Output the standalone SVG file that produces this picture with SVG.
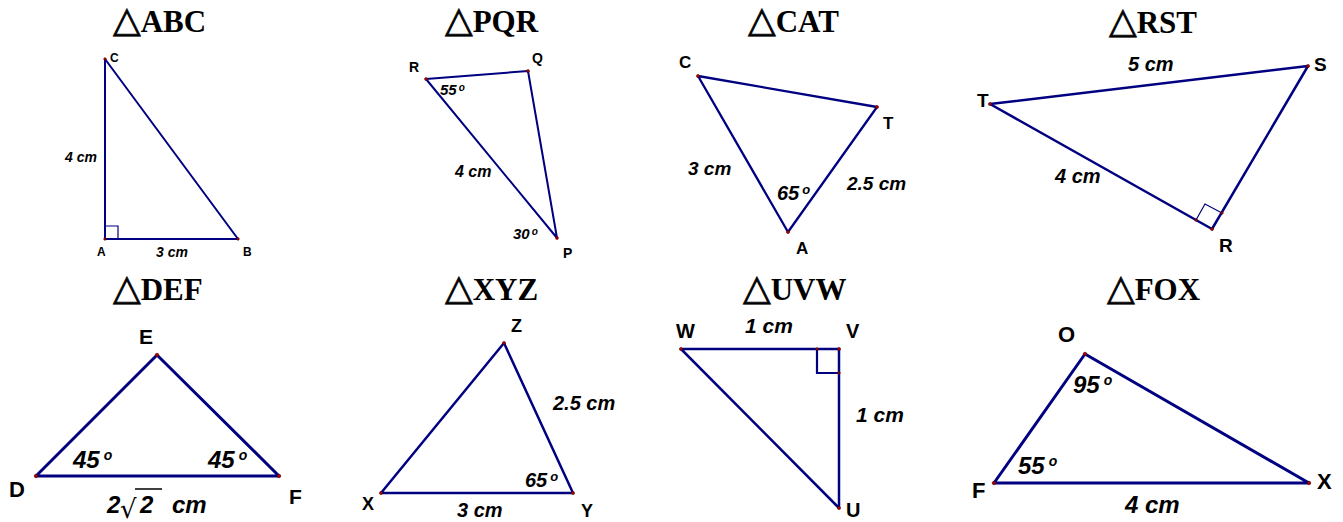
<svg xmlns="http://www.w3.org/2000/svg" width="1343" height="522" viewBox="0 0 1343 522">
<style>
.bg{fill:#ffffff}
.tri{fill:none;stroke:#000080;stroke-linejoin:round}
.ra{fill:none;stroke:#000080}
.pt{fill:#b00000;stroke:#400000;stroke-width:0.5}
.title{font-family:"Liberation Serif","Times New Roman",serif;font-weight:bold;font-size:31px;fill:#000}
.sym{font-family:"DejaVu Sans",sans-serif;font-weight:normal;font-size:36px;stroke:#000;stroke-width:0.7}
.v{font-family:"Liberation Sans",Arial,sans-serif;font-weight:bold;fill:#000}
.m{font-family:"Liberation Sans",Arial,sans-serif;font-weight:bold;font-style:italic;fill:#000}
.rad{font-family:"DejaVu Sans",sans-serif;font-style:normal;font-weight:normal}
</style>
<rect class="bg" x="0" y="0" width="1343" height="522"/>

<g id="titles">
<text class="title" x="113" y="32"><tspan class="sym">△</tspan>ABC</text>
<text class="title" x="445" y="32"><tspan class="sym">△</tspan>PQR</text>
<text class="title" x="748" y="32"><tspan class="sym">△</tspan>CAT</text>
<text class="title" x="1109" y="33"><tspan class="sym">△</tspan>RST</text>
<text class="title" x="113" y="300"><tspan class="sym">△</tspan>DEF</text>
<text class="title" x="445" y="300"><tspan class="sym">△</tspan>XYZ</text>
<text class="title" x="743" y="300"><tspan class="sym">△</tspan>UVW</text>
<text class="title" x="1107" y="300"><tspan class="sym">△</tspan>FOX</text>
</g>

<g id="connectors">
<polygon class="tri" stroke-width="2" points="105,59 105,239 238,239"/>
<polyline class="ra" style="stroke-width:1.2" points="105,226 118,226 118,239"/>
<polygon class="tri" stroke-width="2" points="426,79 528,71 557,238"/>
<polygon class="tri" stroke-width="2.3" points="698,76 877,107 788,232"/>
<polygon class="tri" stroke-width="2.5" points="990,104 1308,66 1212,229"/>
<polyline class="ra" style="stroke-width:1.2" points="1196,220 1205,204 1222,213"/>
<polygon class="tri" stroke-width="3" points="36,476 157,355 279,476"/>
<polygon class="tri" stroke-width="2.5" points="381,493 504,343 573,493"/>
<polygon class="tri" stroke-width="2.5" points="681,349 839,349 839,508"/>
<polyline class="ra" style="stroke-width:2.2" points="817,349 817,373 839,373"/>
<polygon class="tri" stroke-width="3" points="994,483 1085,354 1309,483"/>
</g>

<g id="ABC">
<circle class="pt" cx="105" cy="59" r="1.3"/><circle class="pt" cx="105" cy="239" r="1.3"/><circle class="pt" cx="238" cy="239" r="1.3"/>
<text class="v" font-size="12" x="110" y="62">C</text>
<text class="v" font-size="12" x="97" y="256">A</text>
<text class="v" font-size="12" x="243" y="256">B</text>
<text class="m" font-size="14" x="65" y="162">4 cm</text>
<text class="m" font-size="14" x="156" y="257">3 cm</text>
</g>

<g id="PQR">
<circle class="pt" cx="426" cy="79" r="1.5"/><circle class="pt" cx="528" cy="71" r="1.5"/><circle class="pt" cx="557" cy="238" r="1.5"/>
<text class="v" font-size="14" x="409" y="72">R</text>
<text class="v" font-size="14" x="532" y="63">Q</text>
<text class="v" font-size="14" x="563" y="258">P</text>
<text class="m" font-size="15" x="440" y="95">55<tspan font-size="10" dy="-4" dx="2">o</tspan></text>
<text class="m" font-size="16" x="455" y="177">4 cm</text>
<text class="m" font-size="15" x="513" y="239">30<tspan font-size="10" dy="-4" dx="2">o</tspan></text>
</g>

<g id="CAT">
<circle class="pt" cx="698" cy="76" r="1.6"/><circle class="pt" cx="877" cy="107" r="1.6"/><circle class="pt" cx="788" cy="232" r="1.6"/>
<text class="v" font-size="17" x="679" y="68">C</text>
<text class="v" font-size="17" x="883" y="129">T</text>
<text class="v" font-size="17" x="796" y="254">A</text>
<text class="m" font-size="19" x="688" y="175">3 cm</text>
<text class="m" font-size="19" x="847" y="190">2.5 cm</text>
<text class="m" font-size="20" x="777" y="200">65<tspan font-size="13" dy="-6" dx="3">o</tspan></text>
</g>

<g id="RST">
<circle class="pt" cx="990" cy="104" r="1.6"/><circle class="pt" cx="1308" cy="66" r="1.6"/><circle class="pt" cx="1212" cy="229" r="1.6"/>
<circle class="pt" cx="1196" cy="220" r="1.3"/><circle class="pt" cx="1222" cy="213" r="1.3"/>
<text class="v" font-size="19" x="977" y="107">T</text>
<text class="v" font-size="19" x="1314" y="71">S</text>
<text class="v" font-size="19" x="1219" y="252">R</text>
<text class="m" font-size="20" x="1128" y="71">5 cm</text>
<text class="m" font-size="20" x="1055" y="183">4 cm</text>
</g>

<g id="DEF">
<circle class="pt" cx="36" cy="476" r="1.8"/><circle class="pt" cx="157" cy="355" r="1.8"/><circle class="pt" cx="279" cy="476" r="1.8"/>
<text class="v" font-size="21" x="139" y="344">E</text>
<text class="v" font-size="22" x="9" y="497">D</text>
<text class="v" font-size="21" x="289" y="504">F</text>
<text class="m" font-size="24" x="73" y="468">45<tspan font-size="14" dy="-8" dx="4">o</tspan></text>
<text class="m" font-size="24" x="208" y="468">45<tspan font-size="14" dy="-8" dx="4">o</tspan></text>
<text class="m" font-size="24" x="107" y="513">2<tspan class="rad" font-size="26" x="120" y="518">√</tspan><tspan x="140" y="513">2</tspan><tspan x="172">cm</tspan></text>
<line x1="135" y1="489" x2="162" y2="489" stroke="#000" stroke-width="1.5"/>
</g>

<g id="XYZ">
<circle class="pt" cx="381" cy="493" r="1.6"/><circle class="pt" cx="504" cy="343" r="1.6"/><circle class="pt" cx="573" cy="493" r="1.6"/>
<text class="v" font-size="18" x="511" y="332">Z</text>
<text class="v" font-size="18" x="362" y="510">X</text>
<text class="v" font-size="18" x="581" y="517">Y</text>
<text class="m" font-size="20" x="553" y="410">2.5 cm</text>
<text class="m" font-size="20" x="525" y="487">65<tspan font-size="13" dy="-6" dx="3">o</tspan></text>
<text class="m" font-size="20" x="457" y="517">3 cm</text>
</g>

<g id="UVW">
<circle class="pt" cx="681" cy="349" r="1.6"/><circle class="pt" cx="839" cy="349" r="1.6"/><circle class="pt" cx="839" cy="508" r="1.6"/>
<circle class="pt" cx="817" cy="349" r="1.3"/><circle class="pt" cx="839" cy="373" r="1.3"/>
<text class="v" font-size="20" x="676" y="338">W</text>
<text class="v" font-size="20" x="846" y="338">V</text>
<text class="v" font-size="20" x="846" y="517">U</text>
<text class="m" font-size="21" x="745" y="333">1 cm</text>
<text class="m" font-size="21" x="856" y="422">1 cm</text>
</g>

<g id="FOX">
<circle class="pt" cx="994" cy="483" r="1.8"/><circle class="pt" cx="1085" cy="354" r="1.8"/><circle class="pt" cx="1309" cy="483" r="1.8"/>
<text class="v" font-size="22" x="1058" y="342">O</text>
<text class="v" font-size="22" x="972" y="498">F</text>
<text class="v" font-size="22" x="1317" y="489">X</text>
<text class="m" font-size="24" x="1073" y="393">95<tspan font-size="14" dy="-8" dx="4">o</tspan></text>
<text class="m" font-size="24" x="1018" y="474">55<tspan font-size="14" dy="-8" dx="4">o</tspan></text>
<text class="m" font-size="24" x="1125" y="513">4 cm</text>
</g>
</svg>
